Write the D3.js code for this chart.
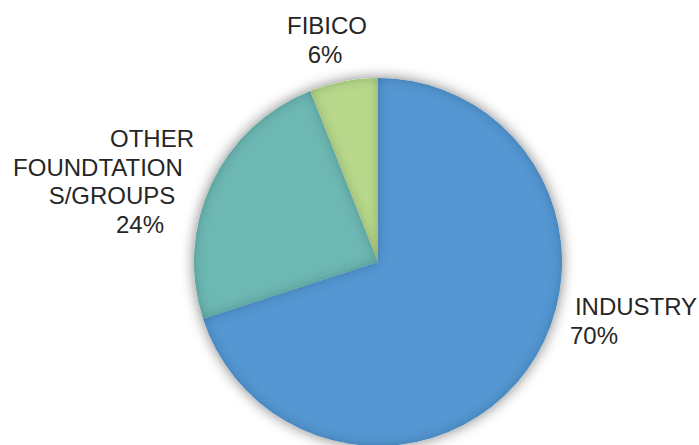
<!DOCTYPE html>
<html>
<head>
<meta charset="utf-8">
<script src="https://cdn.jsdelivr.net/npm/d3@7"></script>
<style>
  body { margin: 0; background: #fff; }
  text { font-family: "Liberation Sans", Arial, sans-serif; fill: #262626; }
</style>
</head>
<body>
<div id="chart"></div>
<script>
// data
const categories = ["INDUSTRY", "OTHER FOUNDTATIONS/GROUPS", "FIBICO"];
const shares = [70, 24, 6];
const sliceColors = ["#5597d3", "#6db8b3", "#b8d98b"];
// label lines as wrapped in the original
const labelLines = [
  ["INDUSTRY", "70%"],
  ["OTHER", "FOUNDTATION", "S/GROUPS", "24%"],
  ["FIBICO", "6%"]
];

const width = 699, height = 445;
const cx = 378, cy = 262, radius = 184;

const svg = d3.select("#chart").append("svg")
  .attr("width", width)
  .attr("height", height);

const defs = svg.append("defs");
const shadow = defs.append("filter").attr("id", "shadow")
  .attr("x", "-20%").attr("y", "-20%").attr("width", "140%").attr("height", "140%");
shadow.append("feGaussianBlur").attr("in", "SourceAlpha").attr("stdDeviation", 7).attr("result", "blur");
shadow.append("feComponentTransfer").attr("in", "blur").attr("result", "soft")
  .append("feFuncA").attr("type", "linear").attr("slope", 0.5);
const merge = shadow.append("feMerge");
merge.append("feMergeNode").attr("in", "soft");
merge.append("feMergeNode").attr("in", "SourceGraphic");

// inner edge shading on each slice
const inner = defs.append("filter").attr("id", "inner");
inner.append("feGaussianBlur").attr("in", "SourceAlpha").attr("stdDeviation", 6).attr("result", "b");
inner.append("feComposite").attr("in", "SourceAlpha").attr("in2", "b").attr("operator", "arithmetic")
  .attr("k2", 1).attr("k3", -1).attr("result", "edge");
inner.append("feFlood").attr("flood-color", "#1a2a3a").attr("flood-opacity", 0.45);
inner.append("feComposite").attr("in2", "edge").attr("operator", "in").attr("result", "dark");
const m2 = inner.append("feMerge");
m2.append("feMergeNode").attr("in", "SourceGraphic");
m2.append("feMergeNode").attr("in", "dark");

const pie = d3.pie().sort(null).value(d => d);
const arcs = pie(shares);
const arc = d3.arc().innerRadius(0).outerRadius(radius);

const g = svg.append("g").attr("transform", `translate(${cx},${cy})`);

g.append("g").attr("filter", "url(#shadow)")
  .selectAll("path")
  .data(arcs)
  .join("path")
  .attr("d", arc)
  .attr("fill", (d, i) => sliceColors[i])
  .attr("filter", "url(#inner)");

// label placement (anchor of first line, per line x offsets for the centred wrap)
const labelPos = [
  { x: 636, y: 315, dx: [0, -42] },
  { x: 152, y: 147, dx: [0, -54, -40, -12] },
  { x: 327, y: 34, dx: [0, -2] }
];
const lineH = 28.7;

svg.selectAll("g.label")
  .data(labelLines)
  .join("g")
  .attr("class", "label")
  .each(function(lines, i) {
    d3.select(this).selectAll("text")
      .data(lines)
      .join("text")
      .attr("x", (t, j) => labelPos[i].x + labelPos[i].dx[j])
      .attr("y", (t, j) => labelPos[i].y + j * lineH)
      .attr("text-anchor", "middle")
      .attr("font-size", 24)
      .text(t => t);
  });
</script>
</body>
</html>
